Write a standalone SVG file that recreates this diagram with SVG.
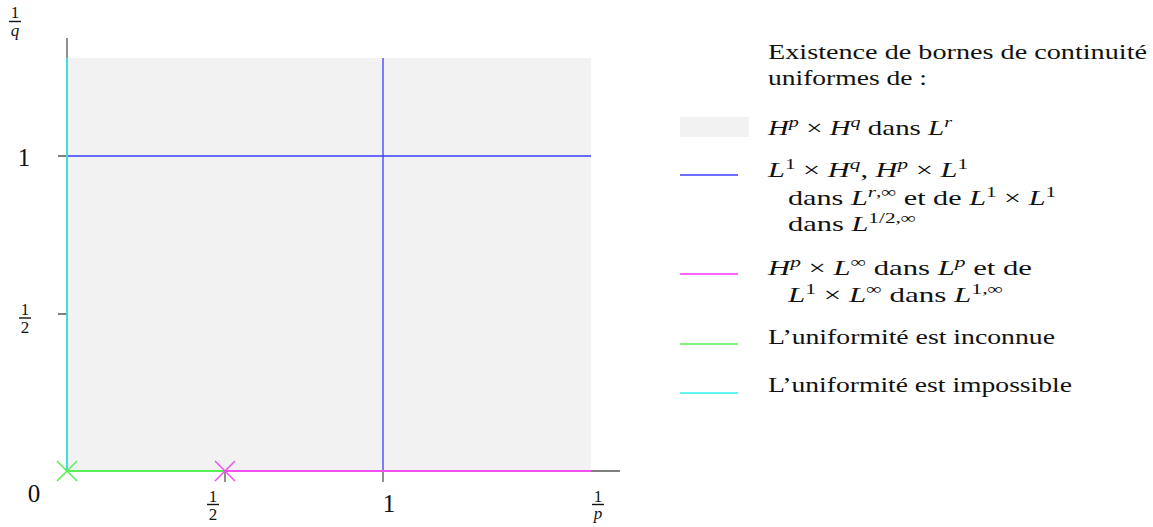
<svg xmlns="http://www.w3.org/2000/svg" width="1153" height="527" viewBox="0 0 1153 527">
<style>
text{font-family:"Liberation Serif","Times New Roman",serif;fill:#111;}
.lg{font-size:21.5px;}
.ax{font-size:25px;}
.fr{font-size:17px;}
.i{font-style:italic;}
.sup{font-size:15px;}
.axis{stroke:#555;stroke-width:1.3;fill:none;}
.bar{stroke:#111;stroke-width:1.4;}
.blue{stroke:#3c3cff;stroke-width:1.3;fill:none;}
.mag{stroke:#f050f0;stroke-width:1.8;fill:none;}
.grn{stroke:#55f055;stroke-width:1.8;fill:none;}
.cyn{stroke:#30f0f0;stroke-width:1.6;fill:none;}
.sw{stroke-width:1.4;}
</style>
<g id="region">
<rect x="67" y="58" width="524" height="413" fill="#f2f2f2"/>
</g>
<g id="axes">
<path class="axis" d="M67 38V471H620"/>
<path class="axis" d="M58 156H67M58 314H67M225 471V482M383 471V482"/>
</g>
<g id="connectors">
<path class="blue" d="M67 156H591M383 58V471"/>
<path class="cyn" d="M67 58V471"/>
<path class="grn" d="M67 471H225"/>
<path class="mag" d="M225 471H591"/>
<path class="grn" d="M57 461L77 481M57 481L77 461" style="stroke-width:1.5"/>
<path class="mag" d="M215 461L235 481M215 481L235 461" style="stroke-width:1.5"/>
</g>
<g id="axis-labels">
<text class="ax" x="34" y="502" text-anchor="middle">0</text>
<text class="ax" x="389" y="512" text-anchor="middle">1</text>
<text class="ax" x="24" y="166" text-anchor="middle">1</text>
<g id="frac-x-half">
<text class="fr" x="213" y="502" text-anchor="middle">1</text>
<line class="bar" x1="207" y1="504.5" x2="219" y2="504.5"/>
<text class="fr" x="213" y="520" text-anchor="middle">2</text>
</g>
<g id="frac-x-p">
<text class="fr" x="598" y="502" text-anchor="middle">1</text>
<line class="bar" x1="592" y1="504.5" x2="604" y2="504.5"/>
<text class="fr i" x="598" y="519" text-anchor="middle">p</text>
</g>
<g id="frac-y-half">
<text class="fr" x="25" y="315" text-anchor="middle">1</text>
<line class="bar" x1="19" y1="318" x2="31" y2="318"/>
<text class="fr" x="25" y="333" text-anchor="middle">2</text>
</g>
<g id="frac-y-q">
<text class="fr" x="15" y="18" text-anchor="middle">1</text>
<line class="bar" x1="9" y1="21.5" x2="21" y2="21.5"/>
<text class="fr i" x="15" y="36" text-anchor="middle">q</text>
</g>
</g>
<g id="legend-title">
<text class="lg" x="768" y="59" textLength="379" lengthAdjust="spacingAndGlyphs">Existence de bornes de continuité</text>
<text class="lg" x="768" y="85" textLength="159" lengthAdjust="spacingAndGlyphs">uniformes de :</text>
</g>
<g id="legend-grey">
<rect x="680" y="117" width="69" height="20" fill="#f2f2f2"/>
<text class="lg" x="768" y="135" textLength="184" lengthAdjust="spacingAndGlyphs"><tspan class="i">H</tspan><tspan class="sup i" dy="-8">p</tspan><tspan dy="8"> × </tspan><tspan class="i">H</tspan><tspan class="sup i" dy="-8">q</tspan><tspan dy="8"> dans </tspan><tspan class="i">L</tspan><tspan class="sup i" dy="-8">r</tspan></text>
</g>
<g id="legend-blue">
<line class="blue" x1="680" y1="175" x2="738" y2="175"/>
<text class="lg" x="768" y="177" textLength="200" lengthAdjust="spacingAndGlyphs"><tspan class="i">L</tspan><tspan class="sup" dy="-8">1</tspan><tspan dy="8"> × </tspan><tspan class="i">H</tspan><tspan class="sup i" dy="-8">q</tspan><tspan dy="8">, </tspan><tspan class="i">H</tspan><tspan class="sup i" dy="-8">p</tspan><tspan dy="8"> × </tspan><tspan class="i">L</tspan><tspan class="sup" dy="-8">1</tspan></text>
<text class="lg" x="788" y="205" textLength="268" lengthAdjust="spacingAndGlyphs">dans <tspan class="i">L</tspan><tspan class="sup" dy="-8"><tspan class="i">r</tspan>,∞</tspan><tspan dy="8"> et de </tspan><tspan class="i">L</tspan><tspan class="sup" dy="-8">1</tspan><tspan dy="8"> × </tspan><tspan class="i">L</tspan><tspan class="sup" dy="-8">1</tspan></text>
<text class="lg" x="788" y="231" textLength="128" lengthAdjust="spacingAndGlyphs">dans <tspan class="i">L</tspan><tspan class="sup" dy="-8">1/2,∞</tspan></text>
</g>
<g id="legend-magenta">
<line class="mag sw" x1="680" y1="274" x2="738" y2="274" style="stroke:#ff30ff"/>
<text class="lg" x="768" y="275" textLength="264" lengthAdjust="spacingAndGlyphs"><tspan class="i">H</tspan><tspan class="sup i" dy="-8">p</tspan><tspan dy="8"> × </tspan><tspan class="i">L</tspan><tspan class="sup" dy="-8">∞</tspan><tspan dy="8"> dans </tspan><tspan class="i">L</tspan><tspan class="sup i" dy="-8">p</tspan><tspan dy="8"> et de</tspan></text>
<text class="lg" x="788" y="302" textLength="215" lengthAdjust="spacingAndGlyphs"><tspan class="i">L</tspan><tspan class="sup" dy="-8">1</tspan><tspan dy="8"> × </tspan><tspan class="i">L</tspan><tspan class="sup" dy="-8">∞</tspan><tspan dy="8"> dans </tspan><tspan class="i">L</tspan><tspan class="sup" dy="-8">1,∞</tspan></text>
</g>
<g id="legend-green">
<line class="grn sw" x1="680" y1="344" x2="738" y2="344"/>
<text class="lg" x="768" y="344" textLength="287" lengthAdjust="spacingAndGlyphs">L’uniformité est inconnue</text>
</g>
<g id="legend-cyan">
<line class="cyn sw" x1="680" y1="393" x2="738" y2="393"/>
<text class="lg" x="768" y="392" textLength="304" lengthAdjust="spacingAndGlyphs">L’uniformité est impossible</text>
</g>
</svg>
